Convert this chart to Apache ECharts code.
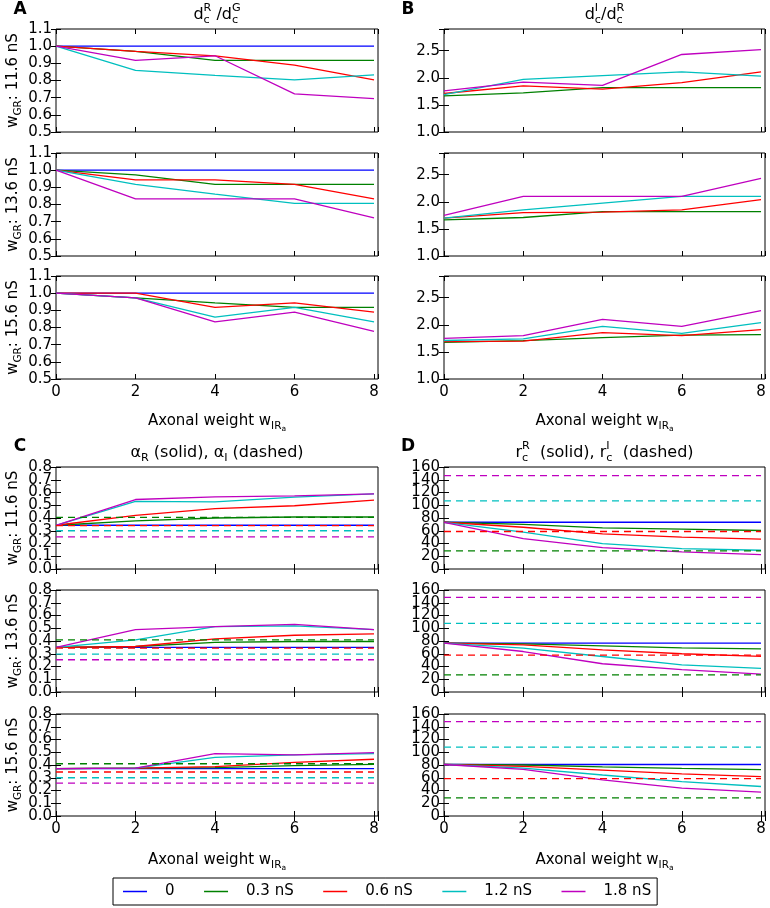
<!DOCTYPE html>
<html>
<head>
<meta charset="utf-8">
<script src="https://cdn.jsdelivr.net/npm/echarts@6/dist/echarts.min.js"></script>
<style>
html, body { margin: 0; padding: 0; background: #fff; }
#chart { width: 770px; height: 908px; }
</style>
</head>
<body>
<div id="chart"></div>
<script>
const xVals = [0, 2, 4, 6, 8];
const seriesNames = ['0', '0.3 nS', '0.6 nS', '1.2 nS', '1.8 nS'];
const colors = ['#0000ff', '#008000', '#ff0000', '#00bfbf', '#bf00bf'];
const rowLabels = ['11.6 nS', '13.6 nS', '15.6 nS'];

// A: d_c^R / d_c^G, one array per w_GR row, series in legend order
const ratioRG_116 = [
  [1.0, 1.0, 1.0, 1.0, 1.0],
  [1.0, 0.97, 0.917, 0.917, 0.917],
  [1.0, 0.97, 0.944, 0.889, 0.804],
  [1.0, 0.859, 0.83, 0.804, 0.833],
  [1.0, 0.917, 0.944, 0.722, 0.694]
];
const ratioRG_136 = [
  [1.0, 1.0, 1.0, 1.0, 1.0],
  [1.0, 0.972, 0.917, 0.917, 0.917],
  [1.0, 0.944, 0.944, 0.917, 0.833],
  [1.0, 0.917, 0.861, 0.806, 0.806],
  [1.0, 0.833, 0.833, 0.833, 0.722]
];
const ratioRG_156 = [
  [1.0, 1.0, 1.0, 1.0, 1.0],
  [1.0, 0.972, 0.944, 0.917, 0.917],
  [1.0, 1.0, 0.917, 0.944, 0.889],
  [1.0, 0.972, 0.861, 0.917, 0.833],
  [1.0, 0.972, 0.833, 0.889, 0.778]
];

// B: d_c^I / d_c^R (no curve for w = 0)
const ratioIR_116 = [
  null,
  [1.667, 1.72, 1.818, 1.818, 1.818],
  [1.71, 1.85, 1.79, 1.91, 2.11],
  [1.69, 1.97, 2.04, 2.11, 2.03],
  [1.76, 1.92, 1.86, 2.43, 2.52]
];
const ratioIR_136 = [
  null,
  [1.667, 1.71, 1.82, 1.82, 1.82],
  [1.70, 1.80, 1.81, 1.85, 2.04],
  [1.70, 1.85, 1.975, 2.10, 2.10],
  [1.75, 2.10, 2.10, 2.10, 2.43]
];
const ratioIR_156 = [
  null,
  [1.676, 1.707, 1.763, 1.81, 1.82],
  [1.69, 1.70, 1.855, 1.80, 1.91],
  [1.71, 1.74, 1.97, 1.84, 2.04],
  [1.75, 1.80, 2.10, 1.97, 2.26]
];

// C: alpha_R (solid) and alpha_I (dashed, constant)
const alphaR_116 = [
  [0.343, 0.343, 0.343, 0.343, 0.343],
  [0.343, 0.377, 0.40, 0.408, 0.408],
  [0.343, 0.42, 0.473, 0.496, 0.54],
  [0.343, 0.53, 0.527, 0.564, 0.59],
  [0.343, 0.545, 0.566, 0.574, 0.59]
];
const alphaR_136 = [
  [0.35, 0.35, 0.35, 0.35, 0.35],
  [0.35, 0.357, 0.39, 0.396, 0.396],
  [0.35, 0.357, 0.417, 0.445, 0.456],
  [0.35, 0.409, 0.513, 0.518, 0.49],
  [0.35, 0.49, 0.513, 0.531, 0.49]
];
const alphaR_156 = [
  [0.372, 0.372, 0.372, 0.372, 0.372],
  [0.372, 0.376, 0.38, 0.395, 0.405],
  [0.372, 0.376, 0.387, 0.42, 0.445],
  [0.372, 0.376, 0.46, 0.479, 0.49],
  [0.372, 0.376, 0.49, 0.479, 0.497]
];
const alphaI_116 = [null, 0.405, 0.34, 0.30, 0.252];
const alphaI_136 = [null, 0.409, 0.344, 0.297, 0.253];
const alphaI_156 = [null, 0.41, 0.345, 0.30, 0.258];

// D: r_c^R (solid) and r_c^I (dashed, constant)
const rR_116 = [
  [73.3, 73.3, 73.3, 73.3, 73.3],
  [73.3, 70, 64.5, 62.5, 60.4],
  [73.3, 65.5, 55.2, 50, 47],
  [73.3, 57.8, 39.7, 32, 29.4],
  [73.3, 47.5, 33.5, 26.8, 22.7]
];
const rR_136 = [
  [76.6, 76.6, 76.6, 76.6, 76.6],
  [76.6, 75.5, 72.4, 69.3, 67.7],
  [76.6, 74, 66, 60, 56],
  [76.6, 68.8, 55.7, 42.7, 37],
  [76.6, 63.5, 44.3, 35, 28]
];
const rR_156 = [
  [80.8, 80.8, 80.8, 80.8, 80.8],
  [80.8, 80, 77, 74.6, 72.6],
  [80.8, 78, 72, 66, 61.8],
  [80.8, 75, 64.3, 54, 46.3],
  [80.8, 73, 56.6, 43.7, 37.6]
];
const rI_116 = [null, 28.4, 58.8, 106.8, 146.6];
const rI_136 = [null, 27, 57.8, 107.8, 148.4];
const rI_156 = [null, 28.3, 58.7, 108, 148];

const FONT = '"DejaVu Sans"';
const gridLeft = [56, 444];
const gridWidth = [322, 321];
const bandTops = [[29, 153, 276], [467, 590, 714]];
const gridHeight = [103, 102];
const xMax = 8.1;

const panels = [
  { col: 0, band: 0, rows: [ratioRG_116, ratioRG_136, ratioRG_156], min: 0.5, max: 1.1, step: 0.1, dec: 1 },
  { col: 1, band: 0, rows: [ratioIR_116, ratioIR_136, ratioIR_156], min: 1.0, max: 2.9, step: 0.5, dec: 1 },
  { col: 0, band: 1, rows: [alphaR_116, alphaR_136, alphaR_156], dashed: [alphaI_116, alphaI_136, alphaI_156], min: 0, max: 0.8, step: 0.1, dec: 1 },
  { col: 1, band: 1, rows: [rR_116, rR_136, rR_156], dashed: [rI_116, rI_136, rI_156], min: 0, max: 160, step: 20, dec: 0 }
];

// text with sub/superscripts, built from separate text pieces
const measureCtx = document.createElement('canvas').getContext('2d');
function textWidth(s, size, bold) {
  measureCtx.font = (bold ? 'bold ' : '') + size + 'px ' + FONT;
  return measureCtx.measureText(s).width;
}
function piece(s, x, y, size, bold) {
  return {
    type: 'text', x: x, y: y, silent: true,
    style: { text: s, font: (bold ? 'bold ' : '') + size + 'px ' + FONT, fill: '#000', textAlign: 'left', textVerticalAlign: 'middle' }
  };
}
// tokens: [base, sub, sup, subsub]
function mathText(tokens, size, x, y, rotation) {
  const kids = [];
  let cx = 0;
  tokens.forEach(function (tk) {
    const base = tk[0], sub = tk[1], sup = tk[2], subsub = tk[3];
    if (base) { kids.push(piece(base, cx, 0, size)); cx += textWidth(base, size); }
    let w = 0;
    const s2 = size * 0.7;
    if (sub) {
      kids.push(piece(sub, cx, size * 0.33, s2));
      w = textWidth(sub, s2);
      if (subsub) { kids.push(piece(subsub, cx + w, size * 0.55, size * 0.5)); w += textWidth(subsub, size * 0.5); }
    }
    if (sup) { kids.push(piece(sup, cx, -size * 0.42, s2)); w = Math.max(w, textWidth(sup, s2)); }
    cx += w;
  });
  kids.forEach(function (k) { k.x -= cx / 2; });
  return { type: 'group', x: x, y: y, rotation: rotation || 0, children: kids };
}

const grids = [], xAxes = [], yAxes = [], series = [], graphics = [];
const tickStyle = { inside: true, length: 5, lineStyle: { color: '#000', width: 1 } };
const labelFont = { fontFamily: FONT, fontSize: 15, color: '#000' };

panels.forEach(function (p) {
  p.rows.forEach(function (rowData, r) {
    const g = grids.length;
    const top = bandTops[p.band][r];
    grids.push({ left: gridLeft[p.col], top: top, width: gridWidth[p.col], height: gridHeight[p.band],
      show: true, borderColor: '#000', borderWidth: 1, backgroundColor: 'transparent' });
    const bottomRow = r === 2;
    xAxes.push({ type: 'value', gridIndex: g, min: 0, max: xMax, interval: 2, position: 'bottom',
      axisLine: { show: false }, splitLine: { show: false }, axisTick: tickStyle,
      axisLabel: Object.assign({ show: bottomRow, margin: 6, showMinLabel: true, showMaxLabel: true, formatter: function (v) {
        return Math.abs(v - Math.round(v)) < 1e-6 ? String(Math.round(v)) : ''; } }, labelFont) });
    xAxes.push({ type: 'value', gridIndex: g, min: 0, max: xMax, interval: 2, position: 'top',
      axisLine: { show: false }, splitLine: { show: false }, axisTick: tickStyle, axisLabel: { show: false } });
    // tick labels split over two stacked left axes (even / odd ticks) so none gets dropped
    const yFmt = function (parity) {
      return function (v) {
        const k = (v - p.min) / p.step;
        const kr = Math.round(k);
        if (Math.abs(k - kr) > 1e-6 || kr % 2 !== parity) return '';
        return v.toFixed(p.dec);
      };
    };
    const yBase = { type: 'value', gridIndex: g, min: p.min, max: p.max, interval: p.step,
      axisLine: { show: false }, splitLine: { show: false } };
    yAxes.push(Object.assign({ position: 'left', axisTick: tickStyle,
      axisLabel: Object.assign({ margin: 4, showMinLabel: true, showMaxLabel: true, formatter: yFmt(0) }, labelFont) }, yBase));
    yAxes.push(Object.assign({ position: 'right', axisTick: tickStyle, axisLabel: { show: false } }, yBase));
    yAxes.push(Object.assign({ position: 'left', offset: 0, axisTick: { show: false },
      axisLabel: Object.assign({ margin: 4, showMinLabel: true, showMaxLabel: true, formatter: yFmt(1) }, labelFont) }, yBase));

    const yIdx = 3 * g;
    rowData.forEach(function (vals, i) {
      if (!vals) return;
      series.push({ name: seriesNames[i], type: 'line', xAxisIndex: 2 * g, yAxisIndex: yIdx,
        data: xVals.map(function (x, j) { return [x, vals[j]]; }),
        symbol: 'none', silent: true, lineStyle: { color: colors[i], width: 1.3 }, itemStyle: { color: colors[i] } });
    });
    if (p.dashed) {
      p.dashed[r].forEach(function (v, i) {
        if (v == null) return;
        series.push({ name: seriesNames[i] + ' dashed', type: 'line', xAxisIndex: 2 * g, yAxisIndex: yIdx,
          data: xVals.map(function (x) { return [x, v]; }),
          symbol: 'none', silent: true, lineStyle: { color: colors[i], width: 1.3, type: [7, 5] } });
      });
    }
    if (p.col === 0) {
      graphics.push(mathText([['w', 'GR'], [': ' + rowLabels[r]]], 15, 13, top + gridHeight[p.band] / 2, Math.PI / 2));
    }
  });
});

// panel titles, letters, x axis names
const centers = [gridLeft[0] + gridWidth[0] / 2, gridLeft[1] + gridWidth[1] / 2];
graphics.push(mathText([['d', 'c', 'R'], [' /'], ['d', 'c', 'G']], 16, centers[0], 15));
graphics.push(mathText([['d', 'c', 'I'], ['/'], ['d', 'c', 'R']], 16, centers[1], 15));
graphics.push(mathText([['α', 'R'], [' (solid), '], ['α', 'I'], [' (dashed)']], 16, centers[0], 453));
graphics.push(mathText([['r', 'c', 'R'], ['  (solid), '], ['r', 'c', 'I'], ['  (dashed)']], 16, centers[1], 453));
[421, 860].forEach(function (y) {
  centers.forEach(function (cx) {
    graphics.push(mathText([['Axonal weight w', 'IR', null, 'a']], 15, cx, y));
  });
});
[['A', 20, 10], ['B', 408, 10], ['C', 20, 447], ['D', 408, 447]].forEach(function (l) {
  graphics.push({ type: 'group', x: l[1], y: l[2], children: [piece(l[0], -textWidth(l[0], 17, true) / 2, 0, 17, true)] });
});

const chart = echarts.init(document.getElementById('chart'));
chart.setOption({
  animation: false,
  backgroundColor: '#fff',
  grid: grids,
  xAxis: xAxes,
  yAxis: yAxes,
  legend: {
    data: seriesNames, left: 113, top: 878, orient: 'horizontal',
    icon: 'rect', itemWidth: 24, itemHeight: 1.5, itemGap: 29.5, selectedMode: false,
    padding: [6, 6, 6, 10], borderColor: '#000', borderWidth: 1, borderRadius: 0,
    textStyle: { fontFamily: FONT, fontSize: 15, color: '#000', padding: [0, 0, 0, 13] }
  },
  series: series,
  graphic: graphics
});
</script>
</body>
</html>
